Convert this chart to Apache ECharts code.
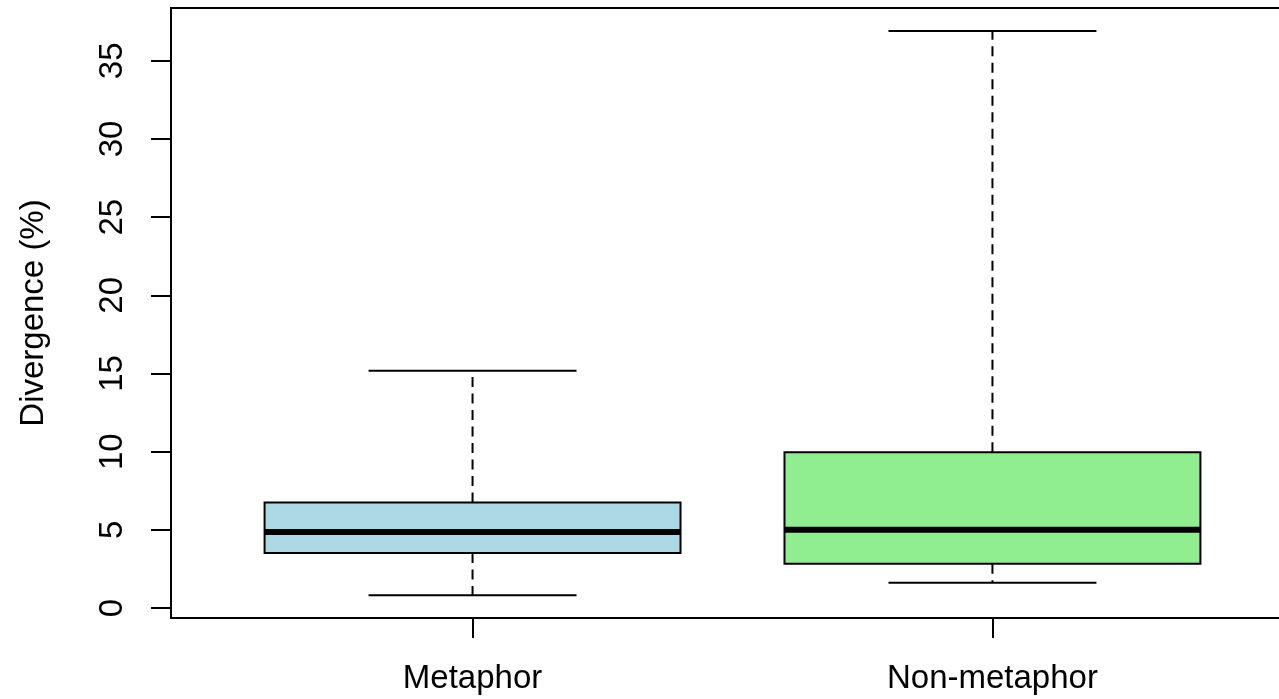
<!DOCTYPE html>
<html>
<head>
<meta charset="utf-8">
<script src="https://cdn.jsdelivr.net/npm/echarts@6/dist/echarts.min.js"></script>
<style>
html,body{margin:0;padding:0;background:#fff;}
#chart{width:1279px;height:699px;}
</style>
</head>
<body>
<div id="chart"></div>
<script>
// ---- data ----
var categories = ['Metaphor', 'Non-metaphor'];
var whiskerLow = [0.81, 1.62];
var q1 = [3.52, 2.83];
var medians = [4.86, 5.01];
var q3 = [6.75, 9.97];
var whiskerHigh = [15.17, 36.91];
var boxColors = ['#ADD8E6', '#90EE90'];
var yTicks = [0, 5, 10, 15, 20, 25, 30, 35];
var yName = 'Divergence (%)';

var FONT = '"Liberation Sans", Arial, sans-serif';
var data = categories.map(function (c, i) {
  return [i + 1, whiskerLow[i], q1[i], medians[i], q3[i], whiskerHigh[i]];
});

var chart = echarts.init(document.getElementById('chart'), null, {renderer: 'canvas'});

function renderItem(params, api) {
  var x = api.value(0);
  var lo = api.coord([x, api.value(1)]);
  var b1 = api.coord([x, api.value(2)]);
  var md = api.coord([x, api.value(3)]);
  var b3 = api.coord([x, api.value(4)]);
  var hi = api.coord([x, api.value(5)]);
  var bw = api.size([0.8, 0])[0];
  var cw = api.size([0.4, 0])[0];
  var cx = lo[0];
  var stroke = '#000';
  var dash = {stroke: stroke, lineWidth: 2, lineDash: [10, 6.5]};
  var solid = {stroke: stroke, lineWidth: 2};
  return {
    type: 'group',
    children: [
      {type: 'line', shape: {x1: cx, y1: b3[1], x2: cx, y2: hi[1]}, style: dash},
      {type: 'line', shape: {x1: cx, y1: b1[1], x2: cx, y2: lo[1]}, style: dash},
      {type: 'line', shape: {x1: cx - cw / 2, y1: hi[1], x2: cx + cw / 2, y2: hi[1]}, style: solid},
      {type: 'line', shape: {x1: cx - cw / 2, y1: lo[1], x2: cx + cw / 2, y2: lo[1]}, style: solid},
      {type: 'rect', shape: {x: cx - bw / 2, y: b3[1], width: bw, height: b1[1] - b3[1]},
        style: {fill: boxColors[params.dataIndex], stroke: stroke, lineWidth: 2}},
      {type: 'line', shape: {x1: cx - bw / 2, y1: md[1], x2: cx + bw / 2, y2: md[1]},
        style: {stroke: stroke, lineWidth: 6}}
    ]
  };
}

var option = {
  animation: false,
  backgroundColor: '#fff',
  grid: {
    left: 171, top: 8, width: 1123, bottom: 81,
    outerBoundsMode: 'none', containLabel: false,
    show: true, borderColor: '#000', borderWidth: 2, backgroundColor: 'transparent'
  },
  xAxis: {
    type: 'value', min: 0.42, max: 2.58,
    axisLine: {show: false, onZero: false},
    splitLine: {show: false},
    axisTick: {show: true, customValues: [1, 2], length: 20, lineStyle: {color: '#000', width: 2}},
    axisLabel: {
      customValues: [1, 2], margin: 44,
      formatter: function (v) { return categories[Math.round(v) - 1] || ''; },
      fontSize: 33, color: '#000', fontFamily: FONT
    }
  },
  yAxis: {
    type: 'value', min: -0.64, max: 38.38,
    name: yName, nameLocation: 'middle', nameGap: 121,
    nameTextStyle: {fontSize: 33, color: '#000', fontFamily: FONT},
    axisLine: {show: false, onZero: false},
    splitLine: {show: false},
    axisTick: {show: true, customValues: yTicks, length: 20, lineStyle: {color: '#000', width: 2}},
    axisLabel: {
      customValues: yTicks, rotate: 90, margin: 42,
      fontSize: 33, color: '#000', fontFamily: FONT
    }
  },
  series: [{
    type: 'custom',
    renderItem: renderItem,
    data: data,
    encode: {x: 0, y: [1, 2, 3, 4, 5]},
    clip: false
  }]
};
chart.setOption(option);
</script>
</body>
</html>
